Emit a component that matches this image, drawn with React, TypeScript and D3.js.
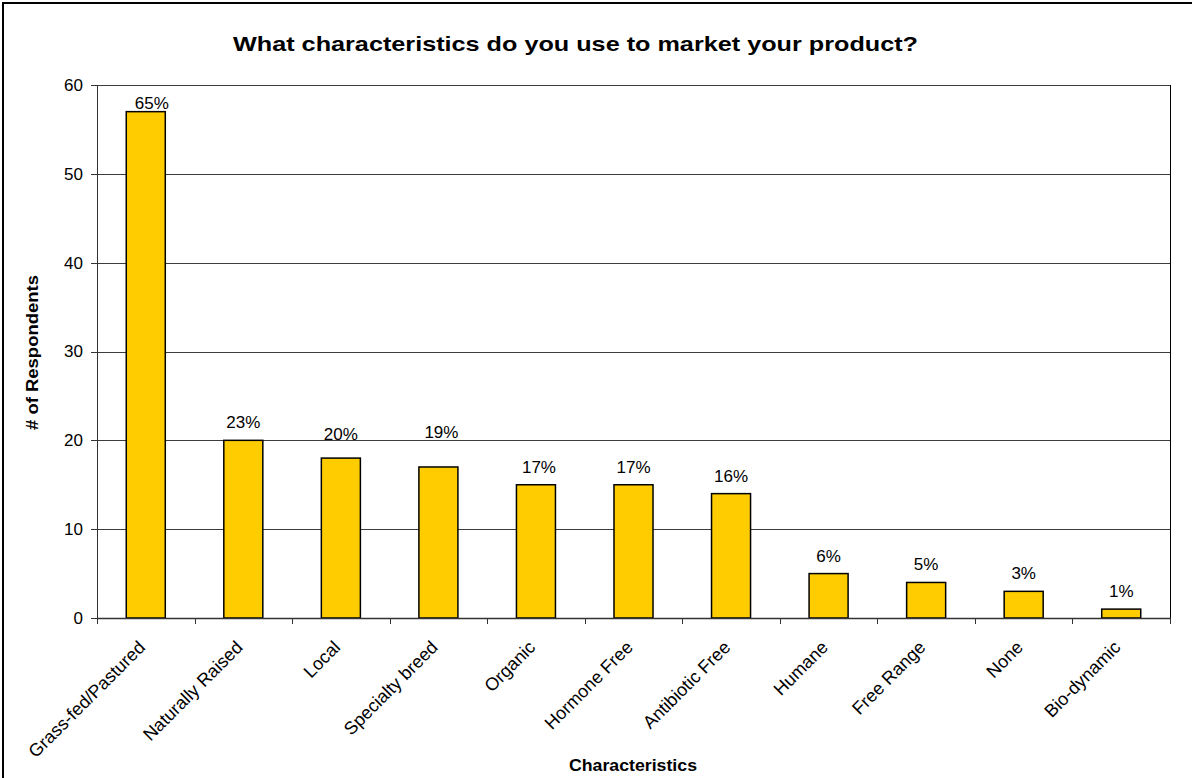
import React from "react";
import * as d3 from "d3";

const categories = [
  "Grass-fed/Pastured",
  "Naturally Raised",
  "Local",
  "Specialty breed",
  "Organic",
  "Hormone Free",
  "Antibiotic Free",
  "Humane",
  "Free Range",
  "None",
  "Bio-dynamic",
];
const respondents = [57, 20, 18, 17, 15, 15, 14, 5, 4, 3, 1];
const percentLabels = ["65%", "23%", "20%", "19%", "17%", "17%", "16%", "6%", "5%", "3%", "1%"];
const yTicks = [0, 10, 20, 30, 40, 50, 60];
// extra label lift (px) as placed in the original chart
const labelLift = [-9, 0, 6, 17, 0, 0, 0, 0, 0, 0, 0];
const labelShift = [6, 0, 0, 3, 3, 0, 0, 0, 0, 0, 0];

const W = 1192;
const H = 778;
const M = { left: 97, right: 1170, top: 85, bottom: 618 };
const FONT = "Liberation Sans, Arial, sans-serif";

export default function App() {
  const x = d3.scaleBand<string>().domain(categories).range([M.left, M.right]).paddingInner(0.6).paddingOuter(0.3);
  const y = d3.scaleLinear().domain([0, 60]).range([M.bottom, M.top]);
  const band = (M.right - M.left) / categories.length;

  return (
    <svg width={W} height={H} style={{ position: "absolute", left: 0, top: 0, background: "#fff" }} fontFamily={FONT}>
      <rect x={0} y={0} width={W} height={H} fill="#fff" />
      {/* outer border (left/top visible) */}
      <line x1={3} y1={2} x2={3} y2={H} stroke="#000" strokeWidth={2} />
      <line x1={2} y1={3} x2={W} y2={3} stroke="#000" strokeWidth={2} />

      <text x={233} y={51} fontSize={21} fontWeight="bold" textLength={685} lengthAdjust="spacingAndGlyphs">
        What characteristics do you use to market your product?
      </text>

      {/* gridlines */}
      {yTicks.filter((t) => t > 0).map((t) => (
        <line key={t} x1={M.left} x2={M.right} y1={Math.round(y(t)) + 0.5} y2={Math.round(y(t)) + 0.5} stroke="#3c3c3c" strokeWidth={1} />
      ))}
      {/* right border of plot */}
      <line x1={M.right + 0.5} x2={M.right + 0.5} y1={M.top} y2={M.bottom} stroke="#000" strokeWidth={1} />

      {/* bars */}
      {categories.map((c, i) => (
        <rect
          key={c}
          x={x(c)!}
          y={y(respondents[i])}
          width={x.bandwidth()}
          height={y(0) - y(respondents[i])}
          fill="#FFCC00"
          stroke="#000"
          strokeWidth={1.5}
        />
      ))}

      {/* data labels */}
      {categories.map((c, i) => (
        <text
          key={c}
          x={x(c)! + x.bandwidth() / 2 + labelShift[i]}
          y={y(respondents[i]) - 12 - labelLift[i]}
          textAnchor="middle"
          fontSize={17}
          fill="#000"
        >
          {percentLabels[i]}
        </text>
      ))}

      {/* y axis */}
      <line x1={M.left + 0.5} x2={M.left + 0.5} y1={M.top} y2={M.bottom + 5} stroke="#333" strokeWidth={1} />
      {yTicks.map((t) => (
        <g key={t}>
          <line x1={M.left - 6} x2={M.left} y1={Math.round(y(t)) + 0.5} y2={Math.round(y(t)) + 0.5} stroke="#333" />
          <text x={M.left - 14} y={y(t)} dy="0.35em" textAnchor="end" fontSize={17}>
            {t}
          </text>
        </g>
      ))}

      {/* x axis */}
      <line x1={M.left} x2={M.right + 1} y1={M.bottom + 0.5} y2={M.bottom + 0.5} stroke="#333" strokeWidth={1.5} />
      {d3.range(categories.length + 1).map((k) => (
        <line
          key={k}
          x1={Math.round(M.left + k * band) + 0.5}
          x2={Math.round(M.left + k * band) + 0.5}
          y1={M.bottom}
          y2={M.bottom + 6}
          stroke="#333"
        />
      ))}
      {categories.map((c) => {
        const cx = x(c)! + x.bandwidth() / 2;
        return (
          <text
            key={c}
            transform={`translate(${cx - 4},${M.bottom + 26}) rotate(-45)`}
            textAnchor="end"
            dy="0.35em"
            fontSize={18}
          >
            {c}
          </text>
        );
      })}

      <text x={569} y={771} fontSize={16} fontWeight="bold" textLength={128} lengthAdjust="spacingAndGlyphs">
        Characteristics
      </text>
      <text transform={`translate(38,430) rotate(-90)`} fontSize={16} fontWeight="bold" textLength={155} lengthAdjust="spacingAndGlyphs">
        # of Respondents
      </text>
    </svg>
  );
}
